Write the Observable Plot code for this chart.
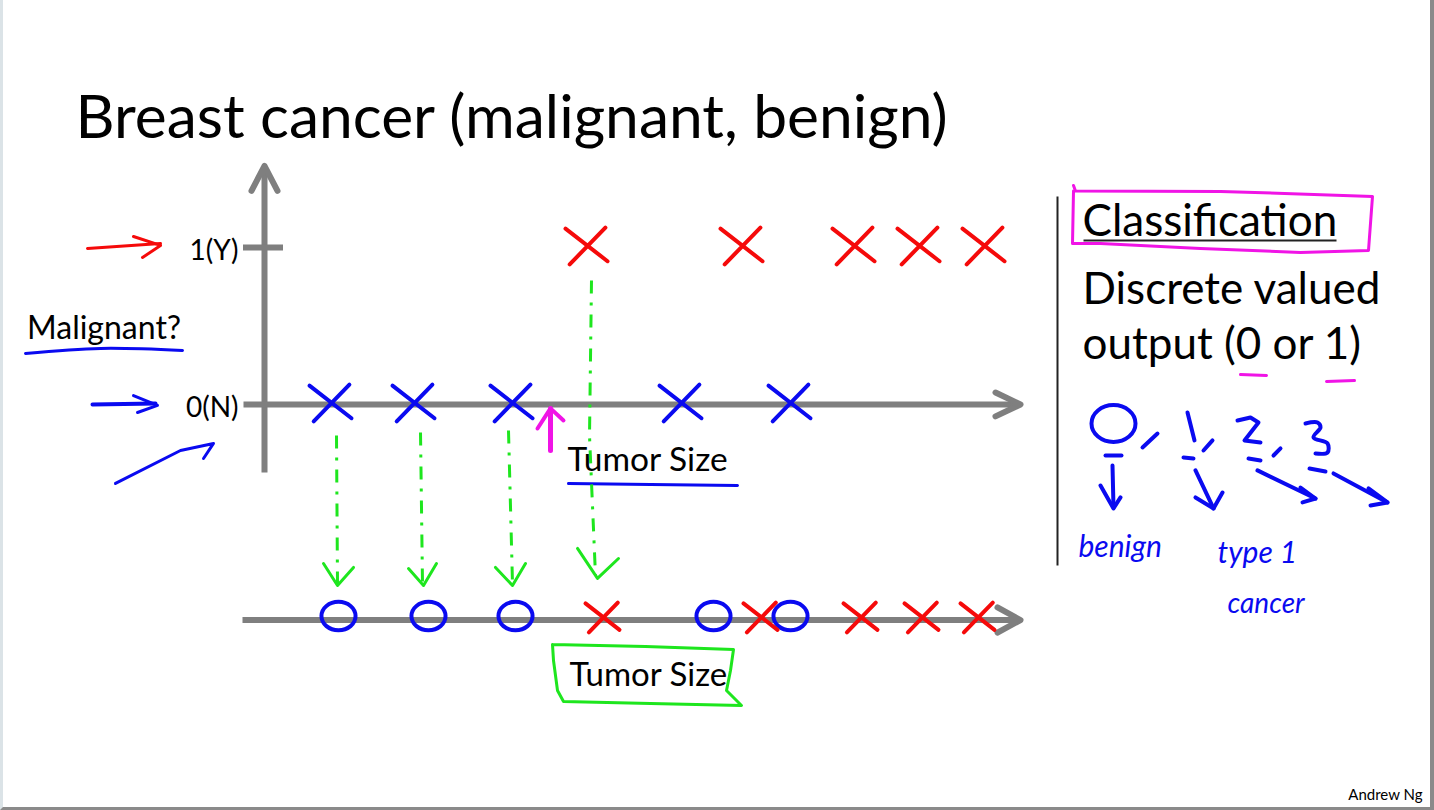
<!DOCTYPE html>
<html>
<head>
<meta charset="utf-8">
<script src="https://cdn.jsdelivr.net/npm/d3@7"></script>
<script src="https://cdn.jsdelivr.net/npm/@observablehq/plot@0.6"></script>
<style>
  html, body { margin: 0; padding: 0; background: #fff; }
  #wrap { position: relative; width: 1434px; height: 810px; overflow: hidden; }
  #frame { position: absolute; left: 0; top: 0; width: 1434px; height: 810px; box-sizing: border-box;
           border-left: 3px solid #dbe3e7; border-right: 4px solid #8a8a8a; border-bottom: 3px solid #8a8a8a; pointer-events: none; }
</style>
</head>
<body>
<div id="wrap"><div id="frame"></div></div>
<script>
// ---- data (tumor size in arbitrary units, label 0 = benign / 1 = malignant) ----
const topBenignSize = [6.6, 14.9, 24.7, 41.6, 52.5];
const topMalignantSize = [32.2, 47.7, 58.9, 65.4, 71.9];
const bottomBenignSize = [7.4, 16.4, 25.1, 44.9, 52.6];
const bottomMalignantSize = [33.8, 49.6, 59.6, 65.7, 71.3];
const labelValues = [0, 1];
const labelTicks = ["0(N)", "1(Y)"];
const titleText = "Breast cancer (malignant, benign)";
const axisTitleText = "Tumor Size";
const yTitleText = "Malignant?";
const sideTexts = ["Classification", "Discrete valued", "output (0 or 1)"];
const handTexts = ["benign", "type 1", "cancer"];
const footerText = "Andrew Ng";

const ROW_BOTTOM = -1.373; // 1-D projection row
const font = "Lato, 'Open Sans', sans-serif";
const gray = "#7f7f7f", blue = "#0a0af0", red = "#f50a0a", green = "#1ee61e", magenta = "#f014e6";

const topRow = [
  ...topBenignSize.map(s => ({size: s, label: 0})),
  ...topMalignantSize.map(s => ({size: s, label: 1}))
];
const bottomRow = [
  ...bottomBenignSize.map(s => ({size: s, label: 0})),
  ...bottomMalignantSize.map(s => ({size: s, label: 1}))
];

// hand-drawn looking symbols
const handX = { draw(ctx, size) { const r = Math.sqrt(size / Math.PI);
  ctx.moveTo(-r, -0.8 * r); ctx.lineTo(r, 0.75 * r);
  ctx.moveTo(-0.8 * r, 0.9 * r); ctx.lineTo(0.9 * r, -0.85 * r); } };
const handO = { draw(ctx, size) { const r = Math.sqrt(size / Math.PI); const rx = 1.1 * r, ry = 0.92 * r, k = 0.5523;
  ctx.moveTo(rx, 0);
  ctx.bezierCurveTo(rx, k * ry, k * rx, ry, 0, ry);
  ctx.bezierCurveTo(-k * rx, ry, -rx, k * ry, -rx, 0);
  ctx.bezierCurveTo(-rx, -k * ry, -k * rx, -ry, 0, -ry);
  ctx.bezierCurveTo(k * rx, -ry, rx, -k * ry, rx, 0); ctx.closePath(); } };

const stroke = (pts, color, w, extra = {}) =>
  Plot.line(pts, {x: d => d[0], y: d => d[1], stroke: color, strokeWidth: w,
                  strokeLinecap: "round", strokeLinejoin: "round", ...extra});
const label = (t, x, y, o = {}) =>
  Plot.text([t], {x: () => x, y: () => y, text: d => d, fontFamily: font, fill: "black", textAnchor: "start", ...o});

const greenDash = {strokeDasharray: "13,9,3,9", strokeLinecap: "butt"};

const chart = Plot.plot({
  width: 1434, height: 810, margin: 0,
  x: {domain: [-26.4, 117.0], axis: null},
  y: {domain: [-2.586, 2.573], axis: null},
  style: {background: "transparent", overflow: "visible"},
  marks: [
    // title
    label(titleText, -18.9, 1.822, {fontSize: 60.5}),

    // top chart axes
    stroke([[0, -0.433], [0, 1.51]], gray, 6, {strokeLinecap: "butt"}),
    stroke([[-1.3, 1.36], [0, 1.52], [1.3, 1.36]], gray, 6),
    Plot.ruleY([1], {x1: -2.1, x2: 1.9, stroke: gray, strokeWidth: 6}),
    stroke([[-2.1, 0], [75.3, 0]], gray, 6, {strokeLinecap: "butt"}),
    stroke([[73.1, 0.076], [75.6, 0], [73.1, -0.076]], gray, 6),
    Plot.text(labelValues, {x: -2.6, y: d => d, text: (d, i) => labelTicks[i], textAnchor: "end",
                            fontFamily: font, fontSize: 28, dy: 4}),

    // y title + underline
    label(yTitleText, -23.75, 0.482, {fontSize: 32}),
    stroke([[-23.9, 0.325], [-16.4, 0.357], [-8.2, 0.344]], blue, 3, {curve: "catmull-rom"}),

    // hand arrows left of labels
    stroke([[-17.7, 0.994], [-10.4, 1.025]], red, 3),
    stroke([[-13.1, 1.07], [-10.4, 1.013], [-12.2, 0.936]], red, 3),
    stroke([[-17.2, 0], [-10.9, 0.006]], blue, 4),
    stroke([[-13.1, 0.057], [-10.7, -0.006], [-12.7, -0.051]], blue, 3),
    stroke([[-14.9, -0.503], [-8.4, -0.293], [-5.1, -0.248], [-6.1, -0.344]], blue, 3),

    // threshold arrow (magenta)
    stroke([[28.6, -0.293], [28.6, -0.025]], magenta, 5),
    stroke([[27.3, -0.153], [28.6, -0.025], [29.9, -0.102]], magenta, 4),

    // x title (top) + underline
    label(axisTitleText, 30.3, -0.357, {fontSize: 33.5}),
    stroke([[30.4, -0.503], [38.6, -0.51], [47.3, -0.516]], blue, 3),

    // green projection arrows
    stroke([[7.2, -0.197], [7.3, -1.14]], green, 3, greenDash),
    stroke([[5.9, -1.013], [7.3, -1.153], [8.9, -1.038]], green, 3),
    stroke([[15.6, -0.178], [15.8, -1.14]], green, 3, greenDash),
    stroke([[14.4, -1.045], [15.9, -1.153], [17.2, -1.013]], green, 3),
    stroke([[24.4, -0.166], [24.8, -1.14]], green, 3, greenDash),
    stroke([[23.1, -1.038], [24.8, -1.153], [26.1, -1.013]], green, 3),
    stroke([[32.7, 0.79], [32.5, -0.2], [33.1, -1.09]], green, 3, greenDash),
    stroke([[31.3, -0.917], [33.3, -1.108], [35.4, -0.981]], green, 3),

    // top data points
    Plot.dot(topRow, {x: "size", y: "label", symbol: handX, r: 21, fill: "none",
                      stroke: d => d.label ? red : blue, strokeWidth: 4, strokeLinecap: "round", dy: -2}),

    // bottom 1-D axis
    stroke([[-2.2, ROW_BOTTOM], [75.3, ROW_BOTTOM]], gray, 6, {strokeLinecap: "butt"}),
    stroke([[73.3, ROW_BOTTOM + 0.08], [75.6, ROW_BOTTOM], [73.3, ROW_BOTTOM - 0.08]], gray, 6),

    // bottom data points
    Plot.dot(bottomRow.filter(d => !d.label), {x: "size", y: () => ROW_BOTTOM, symbol: handO, r: 15.5,
                      fill: "none", stroke: blue, strokeWidth: 4, dy: -4}),
    Plot.dot(bottomRow.filter(d => d.label), {x: "size", y: () => ROW_BOTTOM, symbol: handX, r: 17,
                      fill: "none", stroke: red, strokeWidth: 4, strokeLinecap: "round", dy: -3}),

    // x title (bottom) + green box
    label(axisTitleText, 30.5, -1.727, {fontSize: 33}),
    stroke([[28.8, -1.529], [38.1, -1.541], [46.9, -1.561], [46.6, -1.694], [46.2, -1.822], [47.7, -1.917],
            [38.6, -1.904], [29.9, -1.892], [29.3, -1.822], [28.9, -1.631], [28.8, -1.529]], green, 3),

    // right panel
    stroke([[79.3, 1.325], [79.3, -1.025]], "#222", 2, {strokeLinecap: "butt"}),
    label(sideTexts[0], 81.8, 1.162, {fontSize: 44}),
    stroke([[81.9, 1.045], [107.2, 1.045]], "#222", 2, {strokeLinecap: "butt"}),
    label(sideTexts[1], 81.8, 0.729, {fontSize: 44}),
    label(sideTexts[2], 81.8, 0.378, {fontSize: 44}),
    stroke([[80.9, 1.395], [81.1, 1.36], [95.6, 1.357], [110.8, 1.325], [110.4, 0.981], [103.6, 0.968],
            [93.6, 0.994], [83.6, 1.025], [80.8, 1.025], [80.9, 1.36]], magenta, 3),
    stroke([[97.6, 0.191], [100.2, 0.185]], magenta, 3),
    stroke([[106.2, 0.146], [109.0, 0.153]], magenta, 3),

    // handwritten 0, 1, 2, 3
    Plot.dot([0], {x: () => 84.9, y: () => -0.121, symbol: handO, r: 20, fill: "none", stroke: blue, strokeWidth: 4}),
    stroke([[87.8, -0.274], [89.3, -0.185]], blue, 4),
    stroke([[92.3, -0.051], [93.0, -0.229]], blue, 4),
    stroke([[93.9, -0.293], [94.8, -0.229]], blue, 4),
    stroke([[97.3, -0.102], [98.6, -0.083], [99.4, -0.115], [98.0, -0.229], [99.6, -0.242]], blue, 4),
    stroke([[100.9, -0.325], [101.6, -0.280]], blue, 4),
    stroke([[104.1, -0.121], [105.3, -0.115], [105.6, -0.146], [104.9, -0.210], [106.3, -0.248],
            [106.3, -0.306], [105.1, -0.312]], blue, 4, {curve: "catmull-rom"}),
    stroke([[84.1, -0.325], [85.7, -0.325]], blue, 4),
    stroke([[91.9, -0.338], [92.9, -0.344]], blue, 4),
    stroke([[98.4, -0.344], [99.6, -0.357]], blue, 4),
    stroke([[104.5, -0.408], [106.1, -0.427]], blue, 4),
    stroke([[84.8, -0.389], [84.9, -0.656]], blue, 4),
    stroke([[83.6, -0.516], [84.9, -0.662], [85.6, -0.592]], blue, 4),
    stroke([[93.1, -0.420], [94.9, -0.662]], blue, 4),
    stroke([[93.1, -0.592], [94.9, -0.662], [95.8, -0.561]], blue, 4),
    stroke([[99.3, -0.420], [105.1, -0.599]], blue, 4),
    stroke([[103.6, -0.529], [105.1, -0.599], [103.8, -0.624]], blue, 4),
    stroke([[106.9, -0.439], [112.3, -0.624]], blue, 4),
    stroke([[110.4, -0.535], [112.3, -0.624], [110.6, -0.643]], blue, 4),
    label(handTexts[0], 81.4, -0.913, {fontSize: 30, fill: blue, fontStyle: "italic"}),
    label(handTexts[1], 95.3, -0.949, {fontSize: 30, fill: blue, fontStyle: "italic"}),
    label(handTexts[2], 96.3, -1.274, {fontSize: 28, fill: blue, fontStyle: "italic"}),

    // footer
    label(footerText, 115.8, -2.49, {fontSize: 15, textAnchor: "end"})
  ]
});
document.getElementById("wrap").prepend(chart);
</script>
</body>
</html>
